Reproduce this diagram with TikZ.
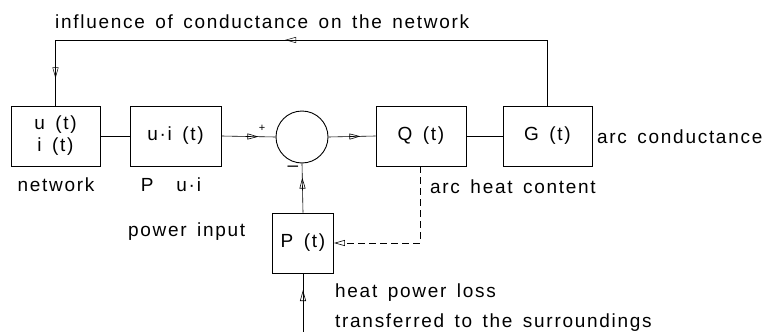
\documentclass[tikz,border=0pt]{standalone}
\usepackage{fontspec}
\setmainfont{Liberation Sans}[LetterSpace=9, WordSpace=1.5]
\usetikzlibrary{arrows.meta,decorations.markings}
\begin{document}
\begin{tikzpicture}[x=1pt,y=-1pt,
  txt/.style={font=\fontsize{19}{22}\selectfont},
  box/.style={draw, line width=0.9pt, inner sep=0pt, minimum width=89pt, minimum height=60pt, txt, align=center},
  lbl/.style={txt, inner sep=0pt, anchor=west},
  conn/.style={line width=0.6pt},
  arrowat/.style={postaction={decorate},decoration={markings,mark=at position #1 with {\arrow{Triangle[open,length=11pt,width=6pt]}}}},
]
\useasboundingbox (0,0) rectangle (774,332);
\node[box] (net) at (55.5,136) {u (t)\\ i (t)};
\node[box, minimum width=91pt] (ui) at (175.5,136) {u·i (t)};
\node[circle, draw, line width=0.9pt, minimum size=52pt, inner sep=0pt] (sum) at (302,137) {};
\node[box, minimum width=90pt] (Q) at (421,136) {Q (t)};
\node[box] (G) at (547.5,136) {G (t)};
\node[box, minimum width=61pt] (P) at (303,243) {P (t)};
\coordinate (top) at (0,40);
\coordinate (dq) at (420,243);
\coordinate (bot) at (303,332);
\draw[conn] (net.east) -- (ui.west);
\draw[conn, arrowat=37pt] (ui.east) -- (sum.west);
\draw[conn, arrowat=32pt] (sum.east) -- (Q.west);
\draw[conn] (Q.east) -- (G.west);
\draw[line width=0.5pt, postaction={decorate}, decoration={markings,
   mark=at position 328pt with {\arrow{Triangle[open,length=11pt,width=6pt]}},
   mark=at position 596pt with {\arrow{Triangle[open,length=11pt,width=6pt]}}}]
  (G.north) -- (G.north |- top) -- (net.north |- top) -- (net.north);
\draw[conn, arrowat=35pt] (P.north) -- (sum.south);
\draw[conn, arrowat=42pt] (bot) -- (P.south);
\draw[conn, dash pattern=on 7pt off 4pt, -{Triangle[open,length=11pt,width=6pt]}] (Q.south -| dq) -- (dq) -- (P.east);
\node[lbl] (tinf) at (55,22) {influence of conductance on the network};
\node[txt, inner sep=0pt] (tnet) at (56,185) {network};
\node[txt, inner sep=0pt] (tpui) at (171,185) {P\hspace{1.2em}u·i};
\node[lbl] (tpow) at (128,232) {power input};
\node[lbl] (theat) at (430,187) {arc heat content};
\node[lbl] (tcond) at (597,137) {arc conductance};
\node[lbl] (tloss) at (335,293) {heat power loss};
\node[lbl] (ttr) at (335,323) {transferred to the surroundings};
\node[txt, inner sep=0pt, font=\fontsize{11}{11}\selectfont] (plus) at (262,128) {+};
\node[txt, inner sep=0pt] (minus) at (293,169) {–};
\end{tikzpicture}
\end{document}
